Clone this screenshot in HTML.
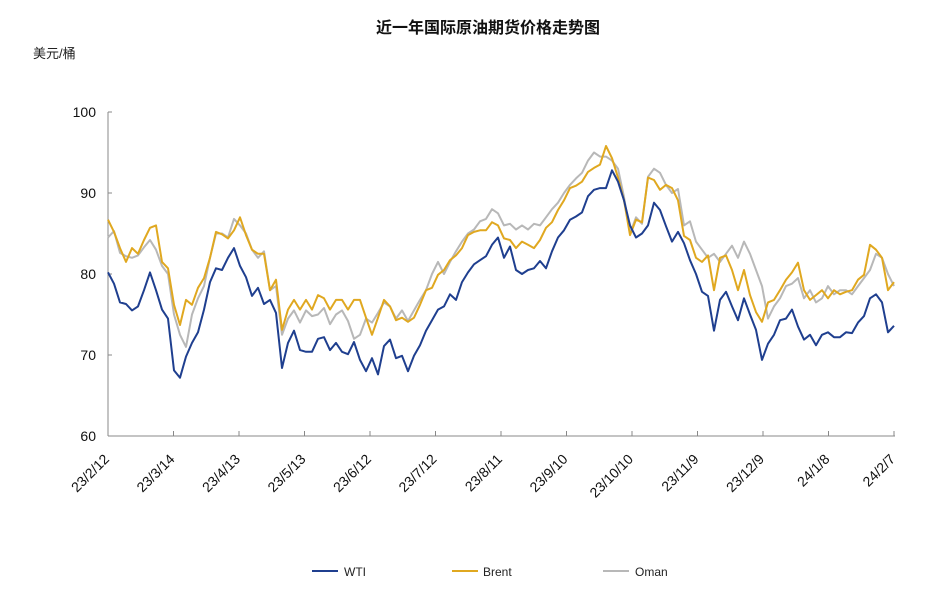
<!DOCTYPE html>
<html><head><meta charset="utf-8">
<style>
body{margin:0;background:#fff;}
svg{display:block;font-family:"Liberation Sans","Noto Sans CJK SC",sans-serif;}
</style></head>
<body>
<svg id="chart" width="939" height="601" viewBox="0 0 939 601" xmlns="http://www.w3.org/2000/svg">
<text x="488" y="33" text-anchor="middle" font-size="16" font-weight="bold" fill="#111">近一年国际原油期货价格走势图</text>
<text x="33" y="58" font-size="13" fill="#222">美元/桶</text>
<g id="axes"></g>
<g id="series"></g>
<g>
 <line x1="312" y1="571" x2="338" y2="571" stroke="#1f3f8f" stroke-width="2"/>
 <text x="344" y="576" font-size="12" fill="#222">WTI</text>
 <line x1="452" y1="571" x2="478" y2="571" stroke="#e0a820" stroke-width="2"/>
 <text x="483" y="576" font-size="12" fill="#222">Brent</text>
 <line x1="603" y1="571" x2="629" y2="571" stroke="#b8b8b8" stroke-width="2"/>
 <text x="635" y="576" font-size="12" fill="#222">Oman</text>
</g>
</svg>
<script>
const xTickLabels=["23/2/12","23/3/14","23/4/13","23/5/13","23/6/12","23/7/12","23/8/11","23/9/10","23/10/10","23/11/9","23/12/9","24/1/8","24/2/7"];
const yTicks=[60,70,80,90,100];
const wti=[80.2,78.8,76.5,76.3,75.5,76.0,78.0,80.2,78.0,75.6,74.5,68.1,67.2,69.8,71.5,72.8,75.6,79.0,80.7,80.5,82.0,83.2,81.0,79.6,77.3,78.3,76.3,76.8,75.2,68.4,
71.5,73.0,70.6,70.4,70.4,72.0,72.2,70.6,71.5,70.4,70.1,71.6,69.4,68.0,69.6,67.6,71.1,71.9,69.6,69.9,68.0,69.9,71.2,73.0,74.3,75.6,76.0,77.5,76.8,79.0,
80.2,81.2,81.7,82.2,83.6,84.5,82.0,83.4,80.5,80.0,80.5,80.7,81.6,80.7,82.8,84.5,85.4,86.7,87.1,87.6,89.6,90.4,90.6,90.6,92.8,91.4,89.1,86.0,84.5,85.0,
86.0,88.8,87.9,85.9,84.0,85.2,83.8,81.7,80.0,77.8,77.3,73.0,76.8,77.8,76.0,74.3,77.0,75.0,73.1,69.4,71.4,72.5,74.3,74.5,75.6,73.5,71.9,72.5,71.2,72.5,
72.8,72.2,72.2,72.8,72.7,74.0,74.8,77.0,77.5,76.5,72.8,73.6];
const brent=[86.7,85.2,83.2,81.5,83.2,82.5,84.2,85.7,86.0,81.5,80.7,76.2,73.7,76.8,76.2,78.3,79.5,82.0,85.2,84.9,84.4,85.4,87.0,84.8,83.0,82.5,82.5,78.0,79.3,73.1,
75.6,76.8,75.6,76.8,75.6,77.4,77.0,75.6,76.8,76.8,75.6,76.8,76.8,74.6,72.5,74.6,76.8,76.0,74.3,74.6,74.1,74.6,76.2,78.0,78.3,79.9,80.5,81.7,82.3,83.2,
84.8,85.2,85.4,85.4,86.4,86.0,84.4,84.2,83.2,84.0,83.6,83.2,84.2,85.7,86.4,87.9,89.1,90.6,90.9,91.4,92.6,93.1,93.5,95.8,94.3,91.9,89.1,84.8,86.7,86.4,
91.9,91.6,90.4,91.0,90.6,89.1,84.7,84.2,82.0,81.5,82.3,78.0,82.0,82.3,80.5,78.0,80.5,77.4,75.3,74.1,76.5,76.8,78.0,79.3,80.2,81.4,78.0,76.8,77.4,78.0,
77.0,78.0,77.5,77.8,78.0,79.3,79.9,83.6,83.0,82.0,78.0,79.0];
const oman=[84.5,85.3,82.6,82.2,82.0,82.3,83.3,84.2,83.0,81.0,80.0,75.0,72.5,71.0,75.0,77.0,78.5,82.0,85.0,85.0,84.5,86.8,86.0,85.0,83.0,82.0,82.8,78.0,78.5,72.5,
74.5,75.5,74.0,75.5,74.8,75.0,75.8,73.8,75.0,75.5,74.2,72.0,72.5,74.5,74.0,75.2,76.5,76.0,74.5,75.5,74.2,75.5,76.8,78.0,80.0,81.5,80.0,81.5,82.8,84.0,
85.0,85.5,86.5,86.8,88.0,87.5,86.0,86.2,85.5,86.0,85.5,86.2,86.0,87.0,88.0,88.8,90.0,91.0,91.8,92.5,94.0,95.0,94.5,94.5,94.0,93.0,89.5,85.0,87.0,86.2,
92.0,93.0,92.5,91.0,90.0,90.5,86.0,86.5,84.0,83.0,82.0,82.5,81.5,82.5,83.5,82.0,84.0,82.5,80.5,78.5,74.5,76.0,77.0,78.5,78.8,79.5,77.0,78.0,76.5,77.0,
78.5,77.5,78.0,78.0,77.5,78.5,79.5,80.5,82.5,82.0,80.0,78.5];

const NS="http://www.w3.org/2000/svg";
const X0=108,X1=895,Y0=436,Y1=112,VMIN=60,VMAX=100;
function yScale(v){return Y0-(v-VMIN)/(VMAX-VMIN)*(Y0-Y1);}
function xIdx(i,n){return X0+i/(n-1)*(X1-1-X0);}
function xTick(i){return X0+i/(xTickLabels.length-1)*(X1-1-X0);}
const axes=document.getElementById('axes');
function mk(tag,attrs,parent){const e=document.createElementNS(NS,tag);for(const k in attrs)e.setAttribute(k,attrs[k]);parent.appendChild(e);return e;}
const yl=mk('line',{x1:X0,y1:Y1,x2:X0,y2:Y0,stroke:'#888','stroke-width':1},axes);


const xl=mk('line',{x1:X0,y1:Y0,x2:X1,y2:Y0,stroke:'#888','stroke-width':1},axes);


yTicks.forEach(v=>{
  const y=yScale(v);
  const t=mk('line',{x1:X0,y1:y,x2:X0+4,y2:y,stroke:'#888'},axes);
  
  
  const tx=mk('text',{x:96,y:y+5,'text-anchor':'end','font-size':14,fill:'#111'},axes);
  tx.textContent=v;
  
  
});
xTickLabels.forEach((s,i)=>{
  const x=xTick(i);
  const t=mk('line',{x1:x,y1:Y0-5,x2:x,y2:Y0,stroke:'#888'},axes);
  
  
  const ax=x+2, ay=Y0+24;
  const tx=mk('text',{x:ax,y:ay,'text-anchor':'end','font-size':14,fill:'#111',transform:`rotate(-45 ${ax} ${ay})`},axes);
  tx.textContent=s;
  
  
});
const sg=document.getElementById('series');
[[oman,'#b8b8b8','oman-line'],[brent,'#e0a820','brent-line'],[wti,'#1f3f8f','wti-line']].forEach(([d,c,n])=>{
  const pts=d.map((v,i)=>xIdx(i,d.length).toFixed(1)+','+yScale(v).toFixed(1)).join(' ');
  const p=mk('polyline',{points:pts,fill:'none',stroke:c,'stroke-width':2,'stroke-linejoin':'round'},sg);
  
  
});
</script>
</body></html>
